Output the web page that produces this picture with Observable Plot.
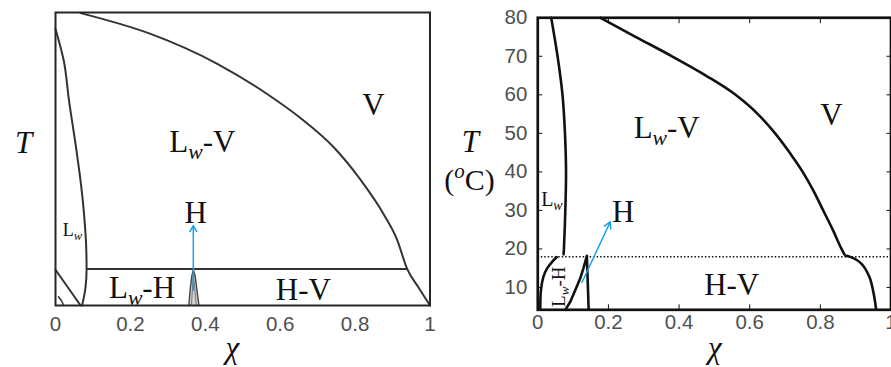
<!DOCTYPE html>
<html><head><meta charset="utf-8">
<script src="https://cdn.jsdelivr.net/npm/d3@7"></script>
<script src="https://cdn.jsdelivr.net/npm/@observablehq/plot@0.6"></script>
<style>
html,body{margin:0;padding:0;background:#fff;overflow:hidden;}
#wrap{position:relative;width:891px;height:367px;overflow:hidden;background:#fff;}
#left{position:absolute;left:0;top:0;}
#right{position:absolute;left:436px;top:0;}
</style></head><body><div id="wrap"><div id="left"></div><div id="right"></div></div>
<script>
const xTicks = [0, 0.2, 0.4, 0.6, 0.8, 1];
const yTicksRight = [10, 20, 30, 40, 50, 60, 70, 80];

// ---- Left panel (schematic, unitless T) ----
const lwLeftX = [0, 0.022, 0.036, 0.056, 0.069, 0.077, 0.082, 0.083, 0.080, 0.071];
const lwLeftY = [0.944, 0.836, 0.70, 0.529, 0.404, 0.30, 0.20, 0.125, 0.06, 0];
const vapLeftX = [0.067, 0.254, 0.432, 0.565, 0.654, 0.743, 0.814, 0.877, 0.912, 0.939, 0.969, 1.0];
const vapLeftY = [0.998, 0.927, 0.825, 0.722, 0.640, 0.540, 0.430, 0.310, 0.225, 0.125, 0.062, 0];
const tripleLeftX = [0.085, 0.939];
const tripleLeftY = [0.125, 0.125];
const diagLeftX = [0, 0.067];
const diagLeftY = [0.122, 0];
const arcLeftX = [0.008, 0.015, 0.022];
const arcLeftY = [0.03, 0.018, 0];
const hOuterX = [0.356, 0.360, 0.364, 0.368, 0.373, 0.378, 0.383];
const hOuterY = [0, 0.06, 0.10, 0.122, 0.10, 0.05, 0];
const hInnerX = [0.363, 0.368, 0.376];
const hInnerY = [0, 0.11, 0];
const arrowLeftX = [0.368, 0.368];
const arrowLeftY = [0.051, 0.273];
const labelsLeft = ["L_w-V", "V", "H", "L_w", "L_w-H", "H-V"];
const labelsLeftX = [0.392, 0.849, 0.374, 0.045, 0.231, 0.662];
const labelsLeftY = [0.557, 0.683, 0.317, 0.256, 0.058, 0.051];
const labelsLeftSize = [31, 31, 31, 18, 31, 31];

// ---- Right panel (T in degC) ----
const lwRightX = [0.038, 0.056, 0.070, 0.077, 0.080, 0.078, 0.074, 0.073];
const lwRightT = [80, 70, 60, 50, 40, 30, 20, 18.6];
const vapUpperX = [0.177, 0.278, 0.380, 0.476, 0.560, 0.623, 0.672, 0.713, 0.750, 0.781, 0.808, 0.835, 0.860, 0.868];
const vapUpperT = [80, 75, 70, 65, 60, 55, 50, 45, 40, 35, 30, 25, 20, 18.6];
const vapLowerX = [0.872, 0.883, 0.916, 0.939, 0.951, 0.958];
const vapLowerT = [18.2, 18.0, 16.2, 12.7, 8.4, 4.2];
const lwhRightX = [0.007, 0.009, 0.016, 0.026, 0.040, 0.054];
const lwhRightT = [4.2, 9.3, 12.8, 14.9, 16.6, 17.9];
const hRightX = [0.078, 0.092, 0.106, 0.120, 0.129, 0.139, 0.144];
const hRightT = [4.2, 6.3, 9.3, 12.3, 14.9, 18.2, 4.2];
const dottedT = [18];
const arrowRightX = [0.125, 0.205];
const arrowRightT = [11.3, 27];
const labelsRight = ["L_w-V", "V", "L_w", "H", "H-V"];
const labelsRightX = [0.365, 0.831, 0.040, 0.242, 0.549];
const labelsRightT = [51.3, 54.7, 32.9, 29.6, 10.6];
const labelsRightSize = [31, 31, 20, 31, 31];
const rotLabelRight = ["L_w-H"];
const rotLabelRightX = [0.059];
const rotLabelRightT = [10.2];

const serif = "Liberation Serif, Times New Roman, serif";
const sans = "Liberation Sans, Arial, Helvetica, sans-serif";
const tickGray = "#4f4f4f";
const NS = "http://www.w3.org/2000/svg";

function richify(root) {
  root.querySelectorAll("text").forEach(t => {
    const s = t.textContent;
    if (!/[_^]/.test(s)) return;
    const fs = parseFloat(getComputedStyle(t).fontSize) || 20;
    const parts = s.split(/([_^].)/).filter(p => p);
    while (t.firstChild) t.removeChild(t.firstChild);
    let cur = 0;
    for (const p of parts) {
      const ts = document.createElementNS(NS, "tspan");
      let target = 0;
      if (p[0] === "_" || p[0] === "^") {
        ts.textContent = p.slice(1);
        ts.setAttribute("font-style", "italic");
        ts.setAttribute("font-size", (fs * 0.7) + "px");
        target = p[0] === "_" ? fs * 0.22 : -fs * 0.38;
      } else ts.textContent = p;
      if (target !== cur) ts.setAttribute("dy", target - cur);
      cur = target;
      t.appendChild(ts);
    }
  });
}

const axisLabel = {fontSize: 31, fontFamily: serif, fill: "#111", textAnchor: "middle", lineAnchor: "middle"};

const leftInk = "#333";
const left = Plot.plot({
  width: 436, height: 367,
  marginLeft: 55, marginRight: 6.5, marginTop: 12, marginBottom: 62,
  x: {domain: [0, 1], label: null},
  y: {domain: [0, 1], axis: null},
  style: {fontFamily: sans, background: "white", overflow: "visible"},
  marks: [
    Plot.line(d3.zip(hOuterX, hOuterY), {fill: "#d2d2d2", stroke: "#444", strokeWidth: 1.4}),
    Plot.line(d3.zip(hInnerX, hInnerY), {stroke: "#777", strokeWidth: 1}),
    Plot.line(d3.zip(lwLeftX, lwLeftY), {curve: "monotone-y", stroke: leftInk, strokeWidth: 2}),
    Plot.line(d3.zip(vapLeftX, vapLeftY), {curve: "monotone-x", stroke: leftInk, strokeWidth: 2}),
    Plot.line(d3.zip(tripleLeftX, tripleLeftY), {stroke: leftInk, strokeWidth: 2}),
    Plot.line(d3.zip(diagLeftX, diagLeftY), {stroke: leftInk, strokeWidth: 2}),
    Plot.line(d3.zip(arcLeftX, arcLeftY), {curve: "catmull-rom", stroke: leftInk, strokeWidth: 1.5}),
    Plot.arrow([0], {x1: [arrowLeftX[0]], y1: [arrowLeftY[0]], x2: [arrowLeftX[1]], y2: [arrowLeftY[1]],
      stroke: "#1aa2e6", strokeWidth: 1.5, headLength: 7}),
    Plot.text(labelsLeft, {x: labelsLeftX, y: labelsLeftY, text: labelsLeft, fontSize: labelsLeftSize,
      fontFamily: serif, fill: "#111"}),
    Plot.text(["T"], {...axisLabel, frameAnchor: "left", dx: -32, dy: -15.5, fontStyle: "italic"}),
    Plot.text(["χ"], {...axisLabel, frameAnchor: "bottom", dx: -10.5, dy: 43, fontStyle: "italic"}),
    Plot.axisX({ticks: xTicks, tickSize: 0, tickPadding: 11, fontSize: 20.5, fill: tickGray, fontFamily: sans,
      tickFormat: d => String(d), label: null}),
    Plot.frame({stroke: "#262626", strokeWidth: 2})
  ]
});
document.getElementById("left").appendChild(left);

const rightInk = "#111";
const right = Plot.plot({
  width: 456, height: 367,
  marginLeft: 101.5, marginRight: 0.5, marginTop: 17.3, marginBottom: 57,
  x: {domain: [0, 1], label: null},
  y: {domain: [4.2, 80], label: null},
  style: {fontFamily: sans, background: "white", overflow: "visible"},
  marks: [
    Plot.ruleY(dottedT, {stroke: rightInk, strokeWidth: 1.5, strokeDasharray: "1.5,2"}),
    Plot.line(d3.zip(lwRightX, lwRightT), {curve: "catmull-rom", stroke: rightInk, strokeWidth: 2.6}),
    Plot.line(d3.zip(vapUpperX, vapUpperT), {curve: "monotone-x", stroke: rightInk, strokeWidth: 2.6}),
    Plot.line(d3.zip(vapLowerX, vapLowerT), {curve: "catmull-rom", stroke: rightInk, strokeWidth: 2.6}),
    Plot.line(d3.zip(lwhRightX, lwhRightT), {curve: "catmull-rom", stroke: rightInk, strokeWidth: 2.6}),
    Plot.line(d3.zip(hRightX, hRightT), {curve: "linear", stroke: rightInk, strokeWidth: 2.6}),
    Plot.arrow([0], {x1: [arrowRightX[0]], y1: [arrowRightT[0]], x2: [arrowRightX[1]], y2: [arrowRightT[1]],
      stroke: "#1aa2e6", strokeWidth: 1.5, headLength: 7}),
    Plot.text(labelsRight, {x: labelsRightX, y: labelsRightT, text: labelsRight, fontSize: labelsRightSize,
      fontFamily: serif, fill: "#111"}),
    Plot.text(rotLabelRight, {x: rotLabelRightX, y: rotLabelRightT, text: rotLabelRight, rotate: -90, fontSize: 19,
      fontFamily: serif, fill: "#111"}),
    Plot.text(["T"], {...axisLabel, frameAnchor: "left", dx: -67.5, dy: -21.6, fontStyle: "italic"}),
    Plot.text(["(^oC)"], {...axisLabel, frameAnchor: "left", dx: -68.5, dy: 16.4, fontSize: 30}),
    Plot.text(["χ"], {...axisLabel, frameAnchor: "bottom", dx: 0.5, dy: 38, fontStyle: "italic"}),
    Plot.axisX({ticks: xTicks, tickSize: 0, tickPadding: 5, fontSize: 20.5, fill: tickGray, fontFamily: sans,
      tickFormat: d => String(d), label: null}),
    Plot.axisX({ticks: xTicks, anchor: "bottom", tickSize: -5, tickFormat: () => "", label: null, stroke: rightInk}),
    Plot.axisX({ticks: xTicks, anchor: "top", tickSize: -5, tickFormat: () => "", label: null, stroke: rightInk}),
    Plot.axisY({ticks: yTicksRight, tickSize: 0, tickPadding: 10.5, fontSize: 20.5, fill: tickGray, fontFamily: sans,
      tickFormat: d => String(d), label: null}),
    Plot.axisY({ticks: yTicksRight, anchor: "left", tickSize: -5, tickFormat: () => "", label: null, stroke: rightInk}),
    Plot.axisY({ticks: yTicksRight, anchor: "right", tickSize: -5, tickFormat: () => "", label: null, stroke: rightInk}),
    Plot.frame({stroke: rightInk, strokeWidth: 2.7})
  ]
});
document.getElementById("right").appendChild(right);

richify(left);
richify(right);
</script>
</body></html>
